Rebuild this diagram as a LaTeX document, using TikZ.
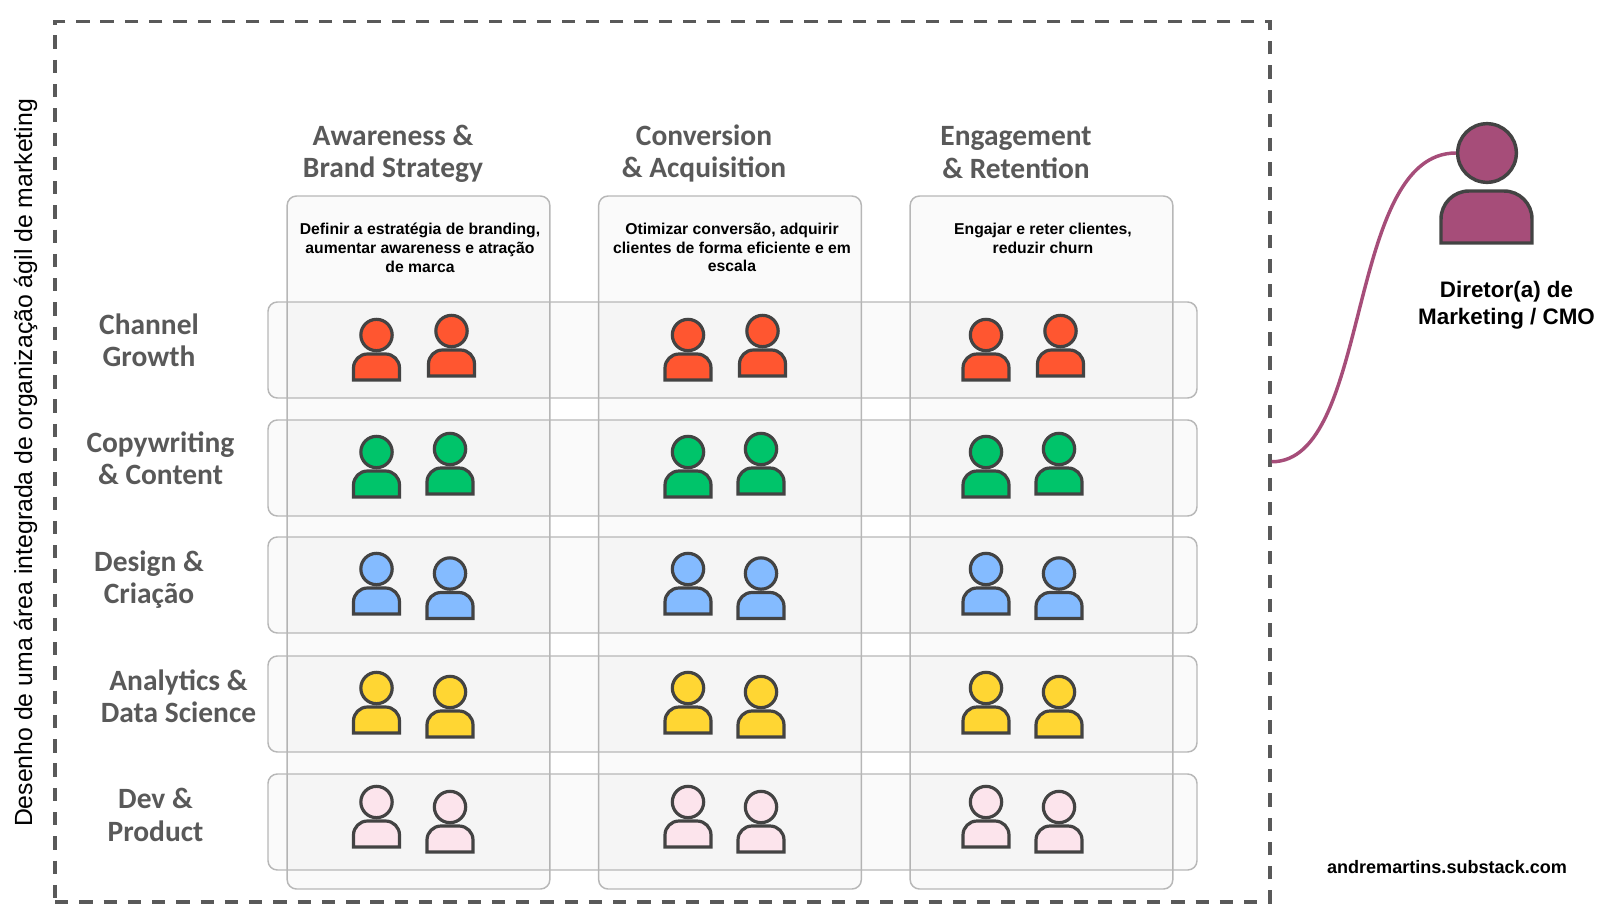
\documentclass[tikz,border=0pt]{standalone}
\usepackage{fontspec}
\setmainfont{Liberation Sans}
\newfontfamily\headfont{Carlito}
\usetikzlibrary{calc}
\definecolor{edgegrey}{HTML}{434343}
\definecolor{framegrey}{HTML}{595959}
\definecolor{boxgrey}{HTML}{B7B7B7}
\definecolor{chanred}{HTML}{FF5630}
\definecolor{copygreen}{HTML}{00C46A}
\definecolor{designblue}{HTML}{84BBFF}
\definecolor{datayellow}{HTML}{FFD633}
\definecolor{devpink}{HTML}{FCE4EC}
\definecolor{cmopurple}{HTML}{A64D79}
\tikzset{
  frame/.style={draw=framegrey,line width=2.5pt,dash pattern=on 10pt off 8.2pt,inner sep=0pt},
  column/.style={draw=boxgrey,line width=1.1pt,fill=black!2,rounded corners=7pt,inner sep=0pt},
  squad/.style={draw=boxgrey,line width=1.1pt,fill=black,fill opacity=.018,rounded corners=7pt,inner sep=0pt},
  head/.style={circle,draw=edgegrey,line width=2.4pt,inner sep=0pt,minimum size=23.5pt},
  body/.style={draw=edgegrey,line width=2.4pt,line join=miter},
  title/.style={font=\headfont\fontsize{22.1}{24.2}\selectfont\bfseries,text=framegrey,align=center},
  mission/.style={font=\fontsize{11.8}{14.2}\selectfont\bfseries,align=center,anchor=north},
}
\newcommand{\person}[4]{
  \node[head,fill=#4] (#1) at (#2,#3) {};
  \draw[body,fill=#4] (#2,#3) ++(-23,45) -- ++(0,-12) arc[start angle=180,end angle=270,radius=14] -- ++(18,0) arc[start angle=270,end angle=360,radius=14] -- ++(0,12) -- cycle;
}
\begin{document}
\begin{tikzpicture}[x=.75pt,y=-.75pt]
\useasboundingbox (0,0) rectangle (1600,911);
\node[frame,minimum width=911.25pt,minimum height=660.4pt] (frame) at (662.5,461.75) {};
% columns
\foreach \col/\xmid in {awareness/418.5,conversion/730,engagement/1041.5}
  \node[column,minimum width=197pt,minimum height=519.75pt] (\col) at (\xmid,542.5) {};
% squads
\foreach \row/\ymid in {channel/350,copy/468,design/585,data/704,dev/822}
  \node[squad,minimum width=696.75pt,minimum height=72pt] (\row) at (732.5,\ymid) {};
% people
\foreach \col/\xa/\xb in {a/376.5/450,b/688/761,c/986/1059}
  \foreach \row/\ya/\yb/\dx/\colr in {r/335/331/1.5/chanred,g/452/449/0/copygreen,b/569/573.5/0/designblue,y/688/692/0/datayellow,p/802/807/0/devpink}{
    \person{\col\row1}{\xa}{\ya}{\colr}
    \person{\col\row2}{\xb+\dx}{\yb}{\colr}
  }
% titles
\node[title] (t1) at (393,154) {Awareness \&\\Brand Strategy};
\node[title] (t2) at (704,153.5) {Conversion\\\& Acquisition};
\node[title] (t3) at (1016,152.5) {Engagement\\\& Retention};
\node[title] (l1) at (149,340) {Channel\\Growth};
\node[title] (l2) at (160.5,458.5) {Copywriting\\\& Content};
\node[title] (l3) at (149,579.5) {Design \&\\Criação};
\node[title] (l4) at (178.5,696.5) {Analytics \&\\Data Science};
\node[title] (l5) at (155.5,815) {Dev \&\\Product};
% missions
\node[mission] (m1) at (420,218) {Definir a estratégia de branding,\\aumentar awareness e atração\\de marca};
\node[mission] (m2) at (732,218) {Otimizar conversão, adquirir\\clientes de forma eficiente e em\\escala};
\node[mission] (m3) at (1043,218) {Engajar e reter clientes,\\reduzir churn};
\node[rotate=90,font=\fontsize{18.6}{20}\selectfont] (side) at (25.5,463) {Desenho de uma área integrada de organização ágil de marketing};
% cmo
\node[head,fill=cmopurple,line width=2.6pt,minimum size=44pt] (cmo) at (1487,153) {};
\draw[body,fill=cmopurple,line width=2.6pt] (1441,243) -- ++(0,-24) arc[start angle=180,end angle=270,radius=28] -- ++(35,0) arc[start angle=270,end angle=360,radius=28] -- ++(0,24) -- cycle;
\node[font=\fontsize{16.8}{20.4}\selectfont\bfseries,align=center] (cmotext) at (1506.5,305.5) {Diretor(a) de\\Marketing / CMO};
\draw[cmopurple,line width=2.6pt] (frame.east) .. controls (1372,462) and (1345,153) .. (cmo.west);
\node[font=\fontsize{13.55}{16}\selectfont\bfseries] (site) at (1447,867) {andremartins.substack.com};
\end{tikzpicture}
\end{document}
